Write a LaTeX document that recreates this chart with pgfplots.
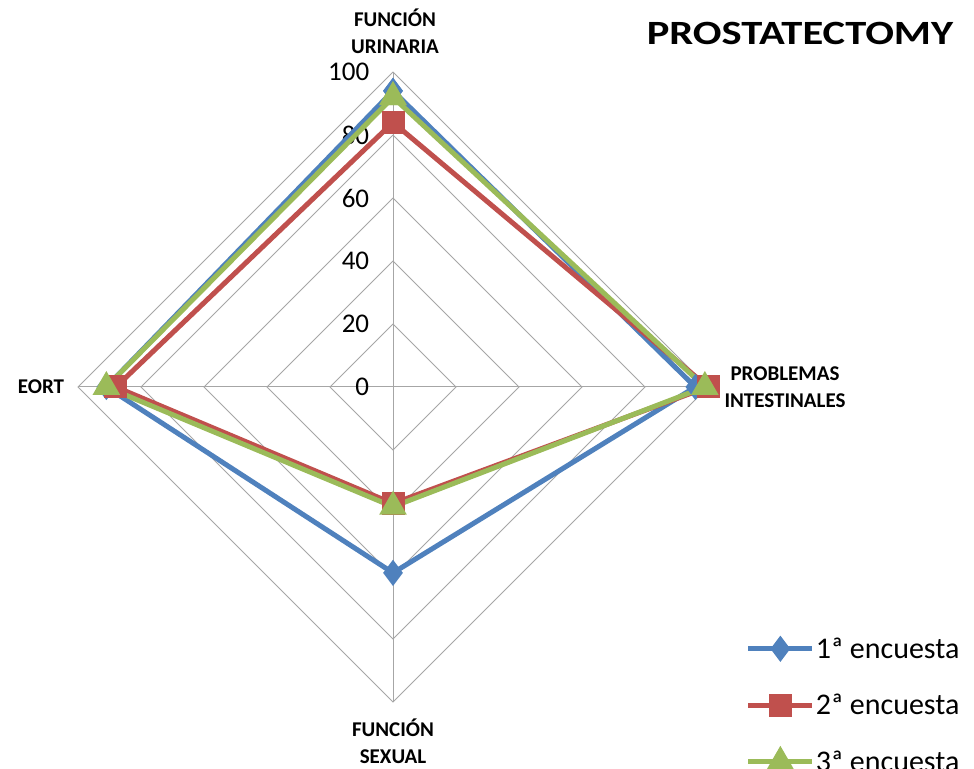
\documentclass[border=0pt]{standalone}
\usepackage{pgfplots}
\pgfplotsset{compat=1.18}
\usepackage{fontspec}
\setmainfont{Carlito}

\definecolor{serA}{HTML}{4F81BD}
\definecolor{serB}{HTML}{C0504D}
\definecolor{serC}{HTML}{9BBB59}
\definecolor{gridgray}{HTML}{A6A6A6}

\begin{document}
\begin{tikzpicture}[x=1pt,y=1pt]
    \begin{axis}[at={(78pt,66pt)}, anchor=south west,
        width=630pt, height=630pt, scale only axis=true,
        xmin=-100, xmax=100, ymin=-100, ymax=100,
        hide axis, clip=false,
        legend style={at={(axis cs:111,-78.6)}, anchor=north west, draw=none, fill=none,
            font=\fontsize{30}{30}\selectfont, row sep=32.5pt,
            nodes={inner sep=1pt}},
        legend cell align=left,
        legend image code/.code={\draw[mark repeat=2, mark phase=2] plot coordinates {(0pt,0pt) (32pt,0pt) (64pt,0pt)};}]
    % rings of the grid
    \addplot[gridgray, line width=1pt, forget plot] coordinates {(0,20) (20,0) (0,-20) (-20,0) (0,20)};
    \addplot[gridgray, line width=1pt, forget plot] coordinates {(0,40) (40,0) (0,-40) (-40,0) (0,40)};
    \addplot[gridgray, line width=1pt, forget plot] coordinates {(0,60) (60,0) (0,-60) (-60,0) (0,60)};
    \addplot[gridgray, line width=1pt, forget plot] coordinates {(0,80) (80,0) (0,-80) (-80,0) (0,80)};
    \addplot[gridgray, line width=1pt, forget plot] coordinates {(0,100) (100,0) (0,-100) (-100,0) (0,100)};
    \addplot[gridgray, line width=1pt, forget plot] coordinates {(0,-100) (0,100)};
    \addplot[gridgray, line width=1pt, forget plot] coordinates {(-100,0) (100,0)};
    % tick labels
    \foreach \v in {0,20,40,60,80,100} {
        \edef\tmp{\noexpand\node[anchor=east, font=\noexpand\fontsize{27}{27}\noexpand\selectfont, inner sep=0pt] at (axis cs:-7.5,\v) {\v};}
        \tmp
    }
    % order: urinaria (top), intestinales (right), sexual (bottom), EORT (left)
    \addplot[serA, line width=5pt, mark=diamond*, mark size=9pt, mark options={solid}] coordinates {
        (0,94) (96,0) (0,-59) (-91,0) (0,94)
    };
    \addlegendentry{1ª encuesta}
    \addplot[serB, line width=5pt, mark=square*, mark size=9pt, mark options={solid}] coordinates {
        (0,84) (100,0) (0,-37) (-88,0) (0,84)
    };
    \addlegendentry{2ª encuesta}
    \addplot[serC, line width=5pt, mark=triangle*, mark size=11pt, mark options={solid}] coordinates {
        (0,92) (99,0) (0,-38) (-91,0) (0,92)
    };
    \addlegendentry{3ª encuesta}
    \end{axis}
    \node[font=\bfseries\fontsize{21}{27}\selectfont, align=center] at (395,737) {FUNCIÓN\\URINARIA};
    \node[font=\bfseries\fontsize{21}{27}\selectfont, align=center] at (785,381) {PROBLEMAS\\INTESTINALES};
    \node[font=\bfseries\fontsize{21}{27}\selectfont] at (41,381) {EORT};
    \node[font=\bfseries\fontsize{21}{27}\selectfont, align=center] at (393,27) {FUNCIÓN\\SEXUAL};
    \node[font=\bfseries\fontsize{34}{34}\selectfont] at (800,735) {\scalebox{1.25}[1]{PROSTATECTOMY}};
    \pgfresetboundingbox
    \path[use as bounding box] (0,0) rectangle (974,768);
\end{tikzpicture}
\end{document}
